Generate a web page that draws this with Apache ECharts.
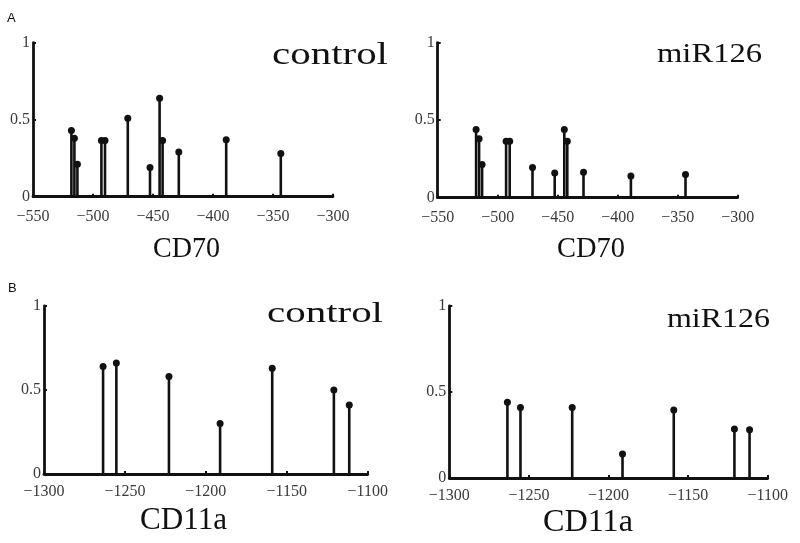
<!DOCTYPE html>
<html>
<head>
<meta charset="utf-8">
<script src="https://cdn.jsdelivr.net/npm/echarts@6/dist/echarts.min.js"></script>
<style>
html,body{margin:0;padding:0;background:#fff;}
#chart{width:800px;height:543px;}
</style>
</head>
<body>
<div id="chart"></div>
<script>
// ---- data ----
const cd70Positions = [-518, -515.5, -513, -493, -490, -471, -452.5, -444.5, -442, -428.5, -389, -343.5];
const cd70Control   = [0.43, 0.38, 0.21, 0.365, 0.365, 0.51, 0.19, 0.64, 0.365, 0.29, 0.37, 0.28];
const cd70MiR126    = [0.44, 0.38, 0.215, 0.365, 0.365, 0.195, 0.16, 0.44, 0.365, 0.165, 0.14, 0.15];

const cd11aPositions = [-1263.5, -1255.3, -1222.8, -1191.2, -1159, -1120.9, -1111.4];
const cd11aControl   = [0.64, 0.66, 0.58, 0.30, 0.63, 0.50, 0.41];
const cd11aMiR126    = [0.44, 0.41, 0.41, 0.14, 0.395, 0.285, 0.28];

const cd70Range  = [-550, -300];
const cd11aRange = [-1300, -1100];

const panelTitles = ['control', 'miR126', 'control', 'miR126'];
const axisTitles  = ['CD70', 'CD70', 'CD11a', 'CD11a'];

// ---- layout ----
const grids = [
  {left: 33,  top: 42.7, width: 300,   height: 154},
  {left: 437.7, top: 42.7, width: 300, height: 155},
  {left: 44,  top: 306,  width: 323.7, height: 168},
  {left: 449.3, top: 306, width: 318.4, height: 172}
];
const panels = [
  {pos: cd70Positions, val: cd70Control, range: cd70Range},
  {pos: cd70Positions, val: cd70MiR126, range: cd70Range},
  {pos: cd11aPositions, val: cd11aControl, range: cd11aRange},
  {pos: cd11aPositions, val: cd11aMiR126, range: cd11aRange}
];

const serif = '"Liberation Serif", "DejaVu Serif", serif';
const ink = '#111';

const xAxis = [], yAxis = [], series = [];
panels.forEach((p, i) => {
  xAxis.push({
    type: 'value', gridIndex: i, min: p.range[0], max: p.range[1], interval: 50,
    axisLine: {show: true, onZero: false, lineStyle: {color: ink, width: 2.8}},
    axisTick: {show: true, inside: true, length: 3, lineStyle: {color: ink, width: 2}},
    splitLine: {show: false},
    axisLabel: {
      color: '#3a3a3a', fontFamily: serif, fontSize: 16, margin: i < 2 ? 12 : 10,
      formatter: v => String(v).replace('-', '\u2212')
    }
  });
  yAxis.push({
    type: 'value', gridIndex: i, min: 0, max: 1, interval: 0.5,
    axisLine: {show: true, lineStyle: {color: ink, width: 2.8}},
    axisTick: {show: true, inside: true, length: 3, lineStyle: {color: ink, width: 2}},
    splitLine: {show: false},
    axisLabel: {color: '#3a3a3a', fontFamily: serif, fontSize: 16, margin: 3}
  });
  const pts = p.pos.map((x, k) => [x, p.val[k]]);
  series.push({
    type: 'bar', xAxisIndex: i, yAxisIndex: i, data: pts, barWidth: 2.6,
    itemStyle: {color: ink, opacity: 1}, silent: true, animation: false
  });
  series.push({
    type: 'scatter', xAxisIndex: i, yAxisIndex: i, data: pts, symbol: 'circle', symbolSize: 7,
    itemStyle: {color: ink, opacity: 1}, silent: true, animation: false
  });
});

// text: [text, x, baseline, fontSize, targetWidth]
const textSpecs = [
  [panelTitles[0], 272, 65, 31, 116],
  [panelTitles[1], 657, 63, 27, 105],
  [panelTitles[2], 267, 323, 30, 116],
  [panelTitles[3], 667, 328, 27, 103],
  [axisTitles[0], 153, 258, 30, 67],
  [axisTitles[1], 557, 258, 30, 68],
  [axisTitles[2], 140, 530, 31, 87],
  [axisTitles[3], 543, 532, 31, 90]
];
const ctx = document.createElement('canvas').getContext('2d');
const graphic = [
  {type: 'text', left: 7, top: 12, style: {text: 'A', font: '13px Arial, "Liberation Sans"', fill: '#111'}},
  {type: 'text', left: 8, top: 282, style: {text: 'B', font: '13px Arial, "Liberation Sans"', fill: '#111'}}
];
textSpecs.forEach(([txt, x, base, size, w]) => {
  const font = size + 'px ' + serif;
  ctx.font = font;
  const natural = ctx.measureText(txt).width;
  graphic.push({
    type: 'text', x: x, y: base + 0.216 * size, scaleX: w / natural,
    style: {text: txt, font: font, fill: '#111', verticalAlign: 'bottom'}
  });
});

const chart = echarts.init(document.getElementById('chart'), null, {renderer: 'canvas'});
chart.setOption({
  backgroundColor: '#fff',
  animation: false,
  grid: grids.map(g => Object.assign({containLabel: false}, g)),
  xAxis, yAxis, series, graphic
});
</script>
</body>
</html>
